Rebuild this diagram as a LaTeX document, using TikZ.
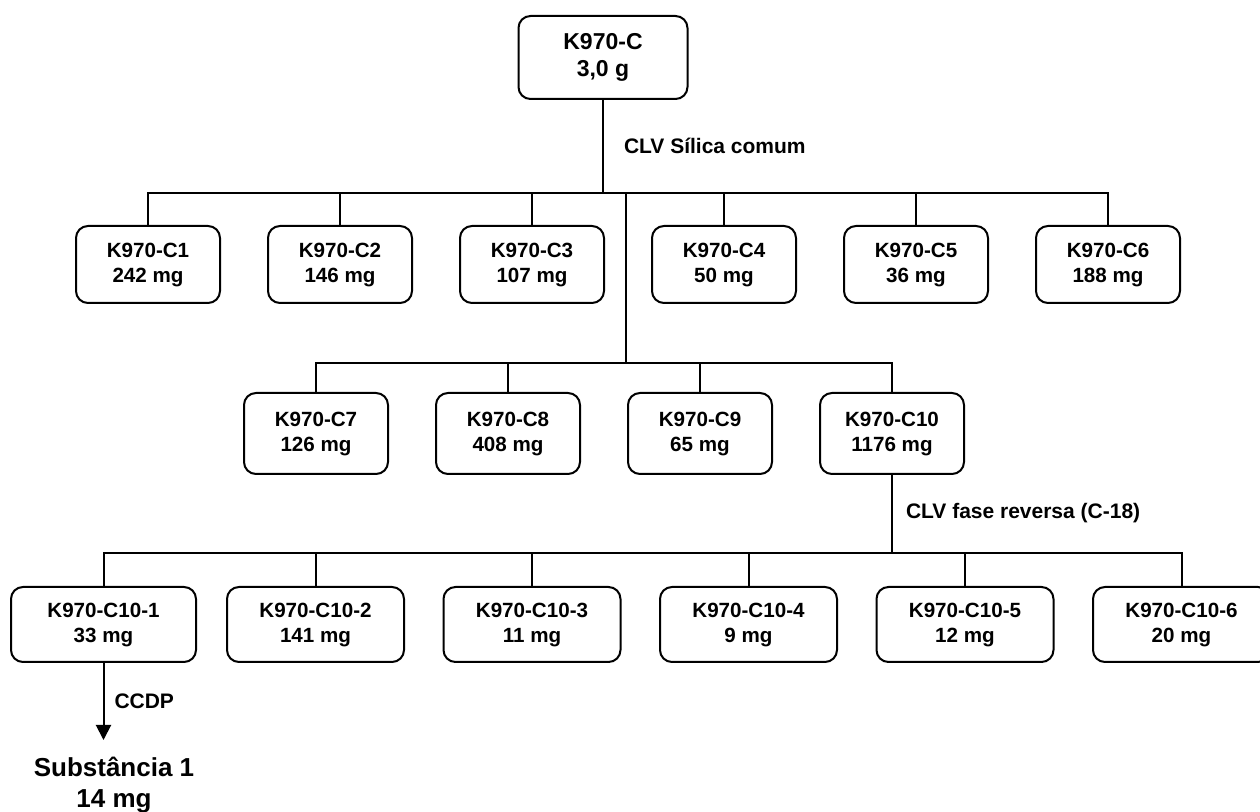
\documentclass[tikz,border=0pt]{standalone}
\usepackage{fontspec}
\setmainfont{Liberation Sans}
\usetikzlibrary{positioning, arrows.meta}

\begin{document}
\begin{tikzpicture}[
  x=0.5pt, y=-0.5pt,
  line width=1pt,
  mybox/.style={
    draw,
    rounded corners=6pt,
    align=center,
    inner sep=0pt,
    outer sep=0pt,
    font=\fontsize{10.3}{12.5}\selectfont\bfseries,
    minimum width=#1,
    minimum height=38.5pt
    },
  mylabel/.style={
    font=\fontsize{10.5}{12.5}\selectfont\bfseries,
    inner sep=0pt,
    anchor=west
    }
]

\clip (0,0) rectangle (1260,812);

\node[mybox=84.5pt, minimum height=41.5pt,
  font=\fontsize{11.5}{13.8}\selectfont\bfseries] (top) at (603,57.5)
  {K970-C\\3,0 g};

% first fractionation
\node[mybox=72pt] (c1) at (148,264.5) {K970-C1\\242 mg};
\node[mybox=72pt, right=24pt of c1] (c2) {K970-C2\\146 mg};
\node[mybox=72pt, right=24pt of c2] (c3) {K970-C3\\107 mg};
\node[mybox=72pt, right=24pt of c3] (c4) {K970-C4\\50 mg};
\node[mybox=72pt, right=24pt of c4] (c5) {K970-C5\\36 mg};
\node[mybox=72pt, right=24pt of c5] (c6) {K970-C6\\188 mg};

\node[mybox=72pt, minimum height=40.5pt] (c7) at (316,433.5) {K970-C7\\126 mg};
\node[mybox=72pt, minimum height=40.5pt, right=24pt of c7] (c8) {K970-C8\\408 mg};
\node[mybox=72pt, minimum height=40.5pt, right=24pt of c8] (c9) {K970-C9\\65 mg};
\node[mybox=72pt, minimum height=40.5pt, right=24pt of c9] (c10) {K970-C10\\1176 mg};

% reversed phase
\node[mybox=92.5pt, minimum height=37.5pt] (c101) at (103.5,624.5) {K970-C10-1\\33 mg};
\node[mybox=88.5pt, minimum height=37.5pt] (c102) at (315.5,624.5) {K970-C10-2\\141 mg};
\node[mybox=88.5pt, minimum height=37.5pt, right=19.75pt of c102] (c103) {K970-C10-3\\11 mg};
\node[mybox=88.5pt, minimum height=37.5pt, right=19.75pt of c103] (c104) {K970-C10-4\\9 mg};
\node[mybox=88.5pt, minimum height=37.5pt, right=19.75pt of c104] (c105) {K970-C10-5\\12 mg};
\node[mybox=88.5pt, minimum height=37.5pt, right=19.75pt of c105] (c106) {K970-C10-6\\20 mg};

\node[font=\fontsize{13}{15.5}\selectfont\bfseries, align=center,
  inner xsep=0pt, inner ysep=8pt, anchor=north] (sub) at (114,740)
  {Substância 1\\14 mg};

\coordinate (bus1) at (603,193);
\coordinate (bus2) at (626,363);
\coordinate (bus3) at (894,553);

% connectors
\draw (top.south) -- node[mylabel, right=10pt] (silica) {CLV Sílica comum} (bus1);
\draw (c1.north) |- (c6.north |- bus1) -- (c6.north);
\draw (c2.north) -- (c2.north |- bus1);
\draw (c3.north) -- (c3.north |- bus1);
\draw (c4.north) -- (c4.north |- bus1);
\draw (c5.north) -- (c5.north |- bus1);

\draw (bus1 -| bus2) -- (bus2);
\draw (c7.north) |- (c10.north |- bus2) -- (c10.north);
\draw (c8.north) -- (c8.north |- bus2);
\draw (c9.north) -- (c9.north |- bus2);

\draw (c10.south) -- node[mylabel, right=6.5pt] (fase) {CLV fase reversa (C-18)} (c10.south |- bus3);
\draw (c101.north) |- (c106.north |- bus3) -- (c106.north);
\draw (c102.north) -- (c102.north |- bus3);
\draw (c103.north) -- (c103.north |- bus3);
\draw (c104.north) -- (c104.north |- bus3);
\draw (c105.north) -- (c105.north |- bus3);

\draw[-{Triangle[length=7.5pt, width=7.5pt]}] (c101.south)
  -- node[mylabel, right=5pt] (ccdp) {CCDP} (c101.south |- sub.north);

\end{tikzpicture}
\end{document}
